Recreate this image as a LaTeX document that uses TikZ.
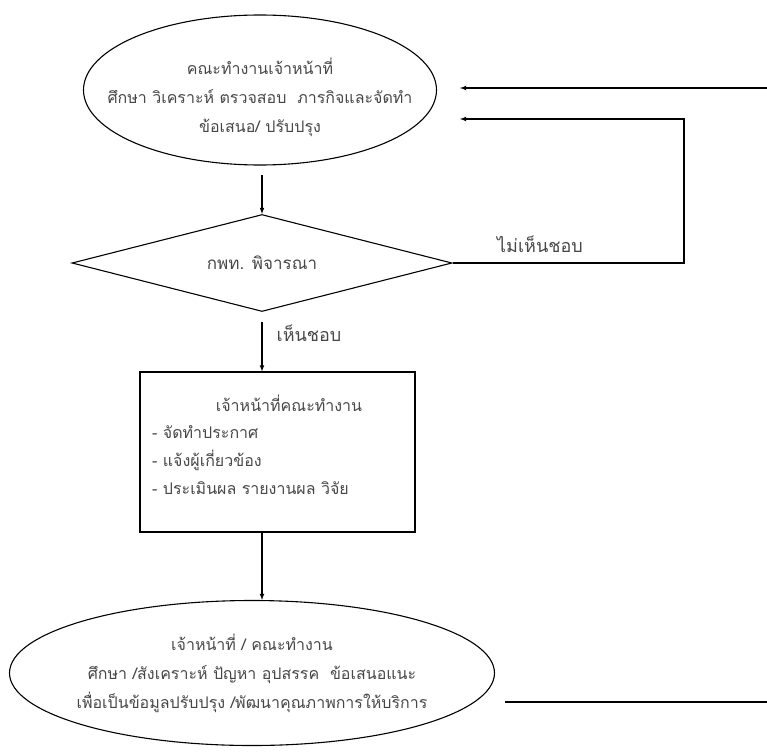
\documentclass[tikz,border=0pt]{standalone}
\usepackage{fontspec}
\newfontfamily\thaifont[Script=Thai]{Loma}
\usepackage{tikz}
\usetikzlibrary{shapes.geometric}
\pgfdeclarelayer{edgelayer}
\pgfdeclarelayer{nodelayer}
\pgfsetlayers{edgelayer,nodelayer,main}
\definecolor{ink}{rgb}{0.28,0.28,0.28}
\tikzstyle{oval}=[ellipse, draw=black, line width=1.1pt, inner sep=0pt]
\tikzstyle{decision}=[diamond, aspect=3.9, draw=black, line width=1.1pt, inner sep=0pt, text=ink, font=\thaifont\fontsize{17}{29}\selectfont]
\tikzstyle{task}=[rectangle, draw=black, line width=1.1pt, inner sep=0pt]
\tikzstyle{words}=[text=ink, inner sep=0pt, align=center, font=\thaifont\fontsize{16}{29}\selectfont]
\tikzstyle{answer}=[text=ink, inner sep=0pt, font=\thaifont\fontsize{18}{20}\selectfont]
\tikzstyle{arrow}=[-latex, draw=black, line width=1.1pt]
\tikzstyle{line}=[-, draw=black, line width=1.1pt]

\begin{document}
\begin{tikzpicture}[x=1pt, y=-1pt]
            \useasboundingbox (0, 0) rectangle (767, 752);
            \begin{pgfonlayer}{nodelayer}
                \node [style=oval, minimum width=353pt, minimum height=150pt] (study) at (260, 90) {};
                \node [style=words] (studytext) at (260, 97) {คณะทำงานเจ้าหน้าที่\\ศึกษา วิเคราะห์ ตรวจสอบ~~ภารกิจและจัดทำ\\ข้อเสนอ/ ปรับปรุง};
                \node [style=decision, minimum width=380pt, minimum height=97pt] (review) at (262, 263) {กพท. พิจารณา};
                \node [style=task, minimum width=275pt, minimum height=160pt] (staff) at (277.5, 452) {};
                \node [style=words] (stafftitle) at (289, 403) {เจ้าหน้าที่คณะทำงาน};
                \node [style=words, anchor=west] (item1) at (152, 432) {- จัดทำประกาศ};
                \node [style=words, anchor=west] (item2) at (152, 460) {- แจ้งผู้เกี่ยวข้อง};
                \node [style=words, anchor=west] (item3) at (152, 488) {- ประเมินผล รายงานผล วิจัย};
                \node [style=oval, minimum width=485pt, minimum height=145pt] (improve) at (252, 673) {};
                \node [style=words] (improvetext) at (252, 673) {เจ้าหน้าที่ / คณะทำงาน\\ศึกษา /สังเคราะห์ ปัญหา อุปสรรค~~ข้อเสนอแนะ\\เพื่อเป็นข้อมูลปรับปรุง /พัฒนาคุณภาพการให้บริการ};

                \node [style=answer] (reject) at (540, 244) {ไม่เห็นชอบ};
                \node [style=answer] (approve) at (309, 333) {เห็นชอบ};

                \coordinate (in1) at (460, 88);
                \coordinate (in1src) at (767, 88);
                \coordinate (in2) at (460, 119);
                \coordinate (backtop) at (684, 119);
                \coordinate (backbot) at (684, 263);
                \coordinate (out1) at (505, 702);
                \coordinate (out1end) at (767, 702);
            \end{pgfonlayer}
            \begin{pgfonlayer}{edgelayer}
                \draw [style=arrow] (in1src) to (in1);
                \draw [style=arrow] (review.east) -- (backbot) -- (backtop) -- (in2);
                \draw [style=arrow] (262, 175) to (review.north);
                \draw [style=arrow] (262, 322) to (staff.north -| review.south);
                \draw [style=arrow] (staff.south -| review.south) to (262, 600);
                \draw [style=line] (out1) to (out1end);
            \end{pgfonlayer}
        \end{tikzpicture}
\end{document}
